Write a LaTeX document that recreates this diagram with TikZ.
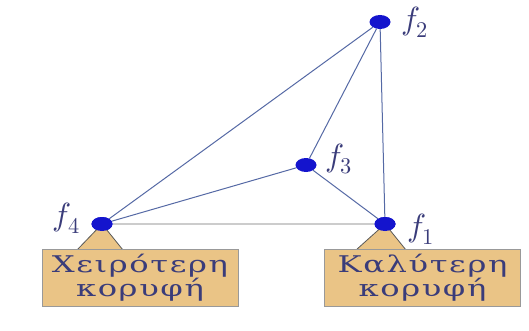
\documentclass[tikz,border=0pt]{standalone}
\usepackage{fontspec}
\usepackage{unicode-math}
\usepackage{xcolor}
\newfontfamily\greekfont[LetterSpace=5]{DejaVu Serif}
\usetikzlibrary{positioning, shapes.geometric}

\definecolor{edgeblue}{RGB}{85,105,165}
\definecolor{dotblue}{RGB}{20,20,205}
\definecolor{boxtan}{RGB}{234,196,134}
\definecolor{textblue}{RGB}{58,60,122}

\begin{document}
\begin{tikzpicture}[x=1pt, y=-1pt,
    vert/.style={ellipse, fill=dotblue, minimum width=21pt, minimum height=14pt, inner sep=0pt},
    flabel/.style={font=\fontsize{32}{34}\selectfont, text=textblue, inner sep=0pt},
    edge/.style={edgeblue, line width=1pt},
    notebox/.style={rectangle, draw=gray!80, fill=boxtan, text=textblue,
        font=\greekfont\fontsize{23}{22}\selectfont, align=center,
        minimum width=196pt, minimum height=57pt, inner sep=0pt},
    pointer/.style={draw=gray!70!black, fill=boxtan, line width=0.8pt}]
    \fill[white] (0,0) rectangle (529,331); % page
    \node[vert] (f2) at (380,22) {};
    \node[vert] (f3) at (306,165) {};
    \node[vert] (f4) at (102,224) {};
    \node[vert] (f1) at (385,224) {};
    \node[flabel, anchor=west] (l2) at (401,22) {$f_2$};
    \node[flabel, anchor=west] (l3) at (325,159) {$f_3$};
    \node[flabel, anchor=east] (l4) at (80,218) {$f_4$};
    \node[flabel, anchor=west] (l1) at (407,229) {$f_1$};

    \draw[gray!40, line width=1.6pt] (f4) -- (f1);
    \draw[edge] (f4) -- (f2);
    \draw[edge] (f4) -- (f3);
    \draw[edge] (f3) -- (f2);
    \draw[edge] (f3) -- (f1);
    \draw[edge] (f2) -- (f1);

    % boxes under the worst and best vertex
    \coordinate (wtop) at (100,250);
    \coordinate (btop) at (381,250);
    \draw[pointer] ([xshift=-23pt]wtop) -- (f4.center) -- ([xshift=23pt]wtop);
    \draw[pointer] ([xshift=-25pt]btop) -- (f1.center) -- ([xshift=25pt]btop);
    \node[notebox] (worst) at (140,277.5) {\scalebox{1.4}[1]{Χειρότερη}\\\scalebox{1.4}[1]{κορυφή}};
    \node[notebox] (best) at (422.5,277.5) {\scalebox{1.4}[1]{Καλύτερη}\\\scalebox{1.4}[1]{κορυφή}};
    \node[vert] at (f4) {};
    \node[vert] at (f1) {};
\end{tikzpicture}
\end{document}
